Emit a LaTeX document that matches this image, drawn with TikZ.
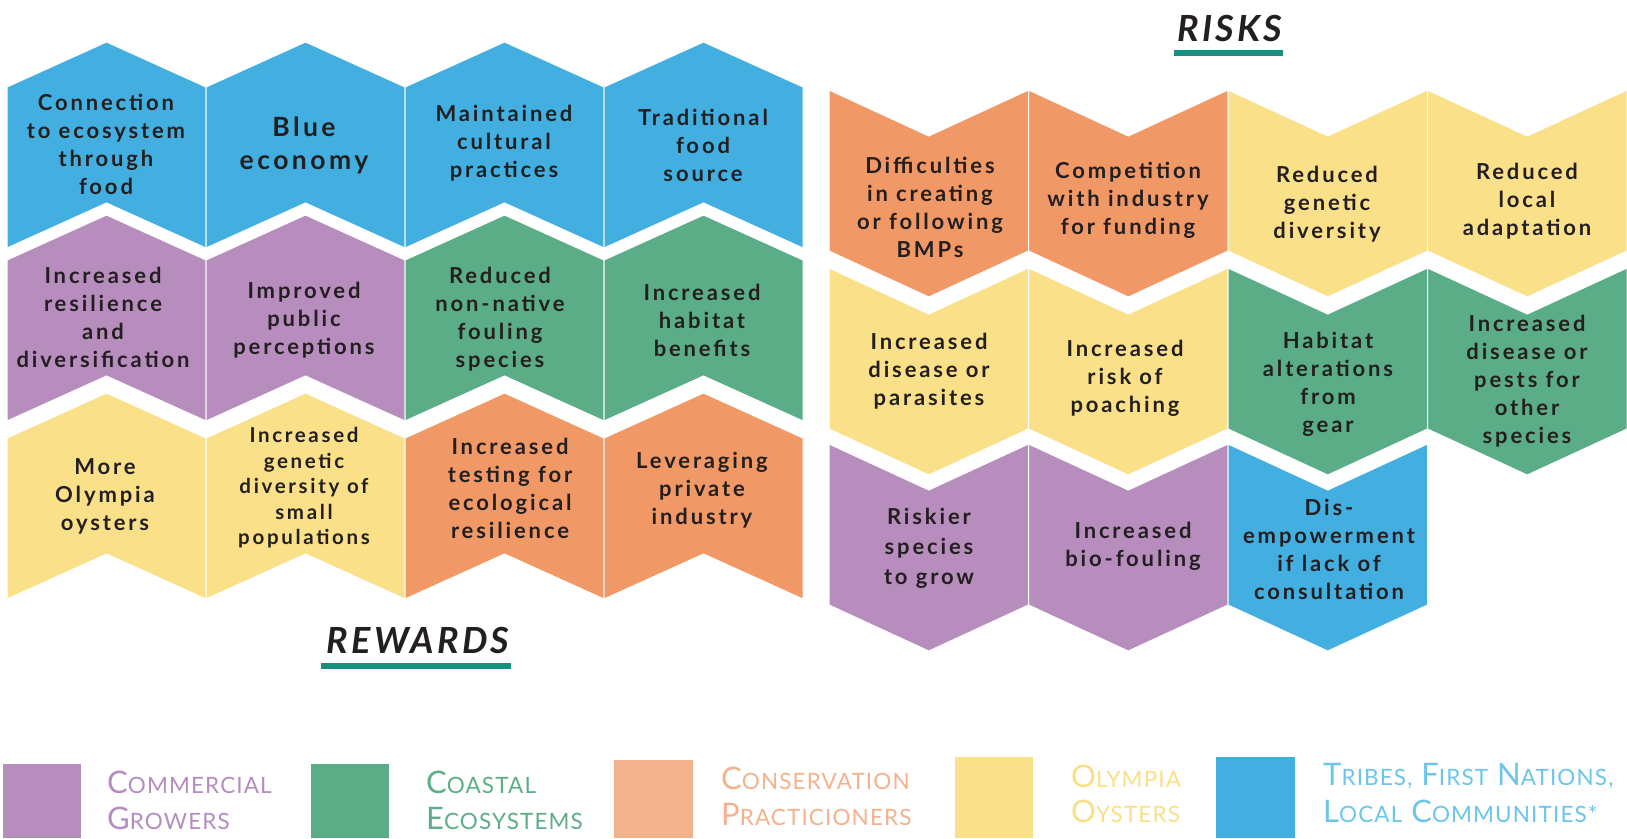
\documentclass[tikz,border=0pt]{standalone}
\usepackage{fontspec}
\setmainfont{Lato}
\newfontfamily\boxfont{Lato}[LetterSpace=13]
\newfontfamily\headfont{Lato}[LetterSpace=9]
\newfontfamily\keyfont{Lato}[LetterSpace=5]

\definecolor{ink}{HTML}{231F20}
\definecolor{cblue}{HTML}{42AFE0}
\definecolor{cpurple}{HTML}{B78DBE}
\definecolor{cgreen}{HTML}{5BAD87}
\definecolor{corange}{HTML}{F19867}
\definecolor{cyellow}{HTML}{FAE088}
\definecolor{corangelight}{HTML}{F2B28B}
\definecolor{teal}{HTML}{16917F}
\definecolor{tpurple}{HTML}{B48CC0}
\definecolor{tgreen}{HTML}{5DAE88}
\definecolor{torange}{HTML}{F3B28D}
\definecolor{tyellow}{HTML}{F9DF86}
\definecolor{tblue}{HTML}{6CC5EA}

% reward tile: point on top, notch at the bottom (#1 left edge, #2 top point, #3 colour)
\newcommand\rewardtile[3]{%
  \fill[#3, draw=white, line width=1pt]
    (#1,#2+45) -- (#1+99.5,#2) -- (#1+199,#2+45) -- (#1+199,#2+206)
    -- (#1+99.5,#2+161) -- (#1,#2+206) -- cycle;}
% risk tile: notch on top, point at the bottom (#1 left edge, #2 top corners, #3 colour)
\newcommand\risktile[3]{%
  \fill[#3, draw=white, line width=1pt]
    (#1,#2) -- (#1+99.75,#2+46) -- (#1+199.5,#2) -- (#1+199.5,#2+161)
    -- (#1+99.75,#2+207) -- (#1,#2+161) -- cycle;}
% legend label in small capitals
\newcommand\kc[2]{{\fontsize{31}{31}\selectfont #1}{\fontsize{22.5}{22.5}\selectfont #2}}
\newcommand\kgap{\hspace{9pt}}

\tikzset{
  lbl/.style={align=center, inner sep=0pt, text=ink,
    font=\boxfont\bfseries\fontsize{22}{28}\selectfont},
  lblbig/.style={lbl, font=\boxfont\bfseries\fontsize{26.5}{33}\selectfont},
  lblsmall/.style={lbl, font=\boxfont\bfseries\fontsize{20.5}{25.5}\selectfont},
  title/.style={anchor=base, inner sep=0pt, text=ink,
    font=\headfont\bfseries\itshape\fontsize{36}{36}\selectfont},
  key/.style={anchor=base west, inner sep=0pt, align=left,
    font=\keyfont\linespread{1}\selectfont},
}

\begin{document}
\begin{tikzpicture}[x=1pt, y=-1pt]
\useasboundingbox (0,0) rectangle (1627,838);

% ---------------- rewards tiles ----------------
\rewardtile{7}{42}{cblue}
\rewardtile{206}{42}{cblue}
\rewardtile{405}{42}{cblue}
\rewardtile{604}{42}{cblue}
\rewardtile{7}{215}{cpurple}
\rewardtile{206}{215}{cpurple}
\rewardtile{405}{215}{cgreen}
\rewardtile{604}{215}{cgreen}
\rewardtile{7}{393}{cyellow}
\rewardtile{206}{393}{cyellow}
\rewardtile{405}{393}{corange}
\rewardtile{604}{393}{corange}

\node[lbl] (w11) at (106,144) {Connection\\to ecosystem\\through\\food};
\node[lblbig] (w12) at (304,145) {Blue\\economy};
\node[lbl] (w13) at (504,143) {Maintained\\cultural\\practices};
\node[lbl] (w14) at (703,145) {Traditional\\food\\source};
\node[lbl] (w21) at (103,317) {Increased\\resilience\\and\\diversification};
\node[lbl] (w22) at (304,320) {Improved\\public\\perceptions};
\node[lbl] (w23) at (500,319) {Reduced\\non-native\\fouling\\species};
\node[lbl] (w24) at (702,320) {Increased\\habitat\\benefits};
\node[lbl] (w31) at (105,496) {More\\Olympia\\oysters};
\node[lblsmall] (w32) at (304,488) {Increased\\genetic\\diversity of\\small\\populations};
\node[lbl] (w33) at (510,488) {Increased\\testing for\\ecological\\resilience};
\node[lbl] (w34) at (702,490) {Leveraging\\private\\industry};

% ---------------- risks tiles ----------------
\risktile{829}{90}{corange}
\risktile{1028.5}{90}{corange}
\risktile{1228}{90}{cyellow}
\risktile{1427.5}{90}{cyellow}
\risktile{829}{268}{cyellow}
\risktile{1028.5}{268}{cyellow}
\risktile{1228}{268}{cgreen}
\risktile{1427.5}{268}{cgreen}
\risktile{829}{444}{cpurple}
\risktile{1028.5}{444}{cpurple}
\risktile{1228}{444}{cblue}

\node[lbl] (k11) at (930,207) {Difficulties\\in creating\\or following\\BMPs};
\node[lbl] (k12) at (1128,200) {Competition\\with industry\\for funding};
\node[lbl] (k13) at (1327,204) {Reduced\\genetic\\diversity};
\node[lbl] (k14) at (1527,201) {Reduced\\local\\adaptation};
\node[lbl] (k21) at (929,371) {Increased\\disease or\\parasites};
\node[lbl] (k22) at (1125,378) {Increased\\risk of\\poaching};
\node[lbl] (k23) at (1328,384) {Habitat\\alterations\\from\\gear};
\node[lbl] (k24) at (1527,381) {Increased\\disease or\\pests for\\other\\species};
\node[lbl, font=\boxfont\bfseries\fontsize{22}{30}\selectfont] (k31) at (929,548) {Riskier\\species\\to grow};
\node[lbl] (k32) at (1133,546) {Increased\\bio-fouling};
\node[lbl] (k33) at (1329,549) {Dis-\\empowerment\\if lack of\\consultation};

% ---------------- headings ----------------
\node[title] (risks) at (1230,41) {RISKS};
\fill[teal] (1174,50) rectangle (1283,56);
\node[title] (rewards) at (418,653) {REWARDS};
\fill[teal] (321,663) rectangle (511,669);

% ---------------- legend ----------------
\fill[cpurple] (3,764) rectangle (81,838);
\fill[cgreen] (311,764) rectangle (389,838);
\fill[corangelight] (614,760) rectangle (693,838);
\fill[cyellow] (955,757) rectangle (1033,838);
\fill[cblue] (1216,757) rectangle (1295,838);

\node[key, text=tpurple] (g1) at (107,793) {\kc{C}{OMMERCIAL}};
\node[key, text=tpurple] (g1b) at (107,829) {\kc{G}{ROWERS}};
\node[key, text=tgreen] (g2) at (426,793) {\kc{C}{OASTAL}};
\node[key, text=tgreen] (g2b) at (426,829) {\kc{E}{COSYSTEMS}};
\node[key, text=torange] (g3) at (721,789) {\kc{C}{ONSERVATION}};
\node[key, text=torange] (g3b) at (721,825) {\kc{P}{RACTICIONERS}};
\node[key, text=tyellow] (g4) at (1071,787) {\kc{O}{LYMPIA}};
\node[key, text=tyellow] (g4b) at (1071,822) {\kc{O}{YSTERS}};
\node[key, text=tblue] (g5) at (1323,785) {\kc{T}{RIBES,}\kgap\kc{F}{IRST}\kgap\kc{N}{ATIONS,}};
\node[key, text=tblue] (g5b) at (1323,822) {\kc{L}{OCAL}\kgap\kc{C}{OMMUNITIES*}};
\end{tikzpicture}
\end{document}
